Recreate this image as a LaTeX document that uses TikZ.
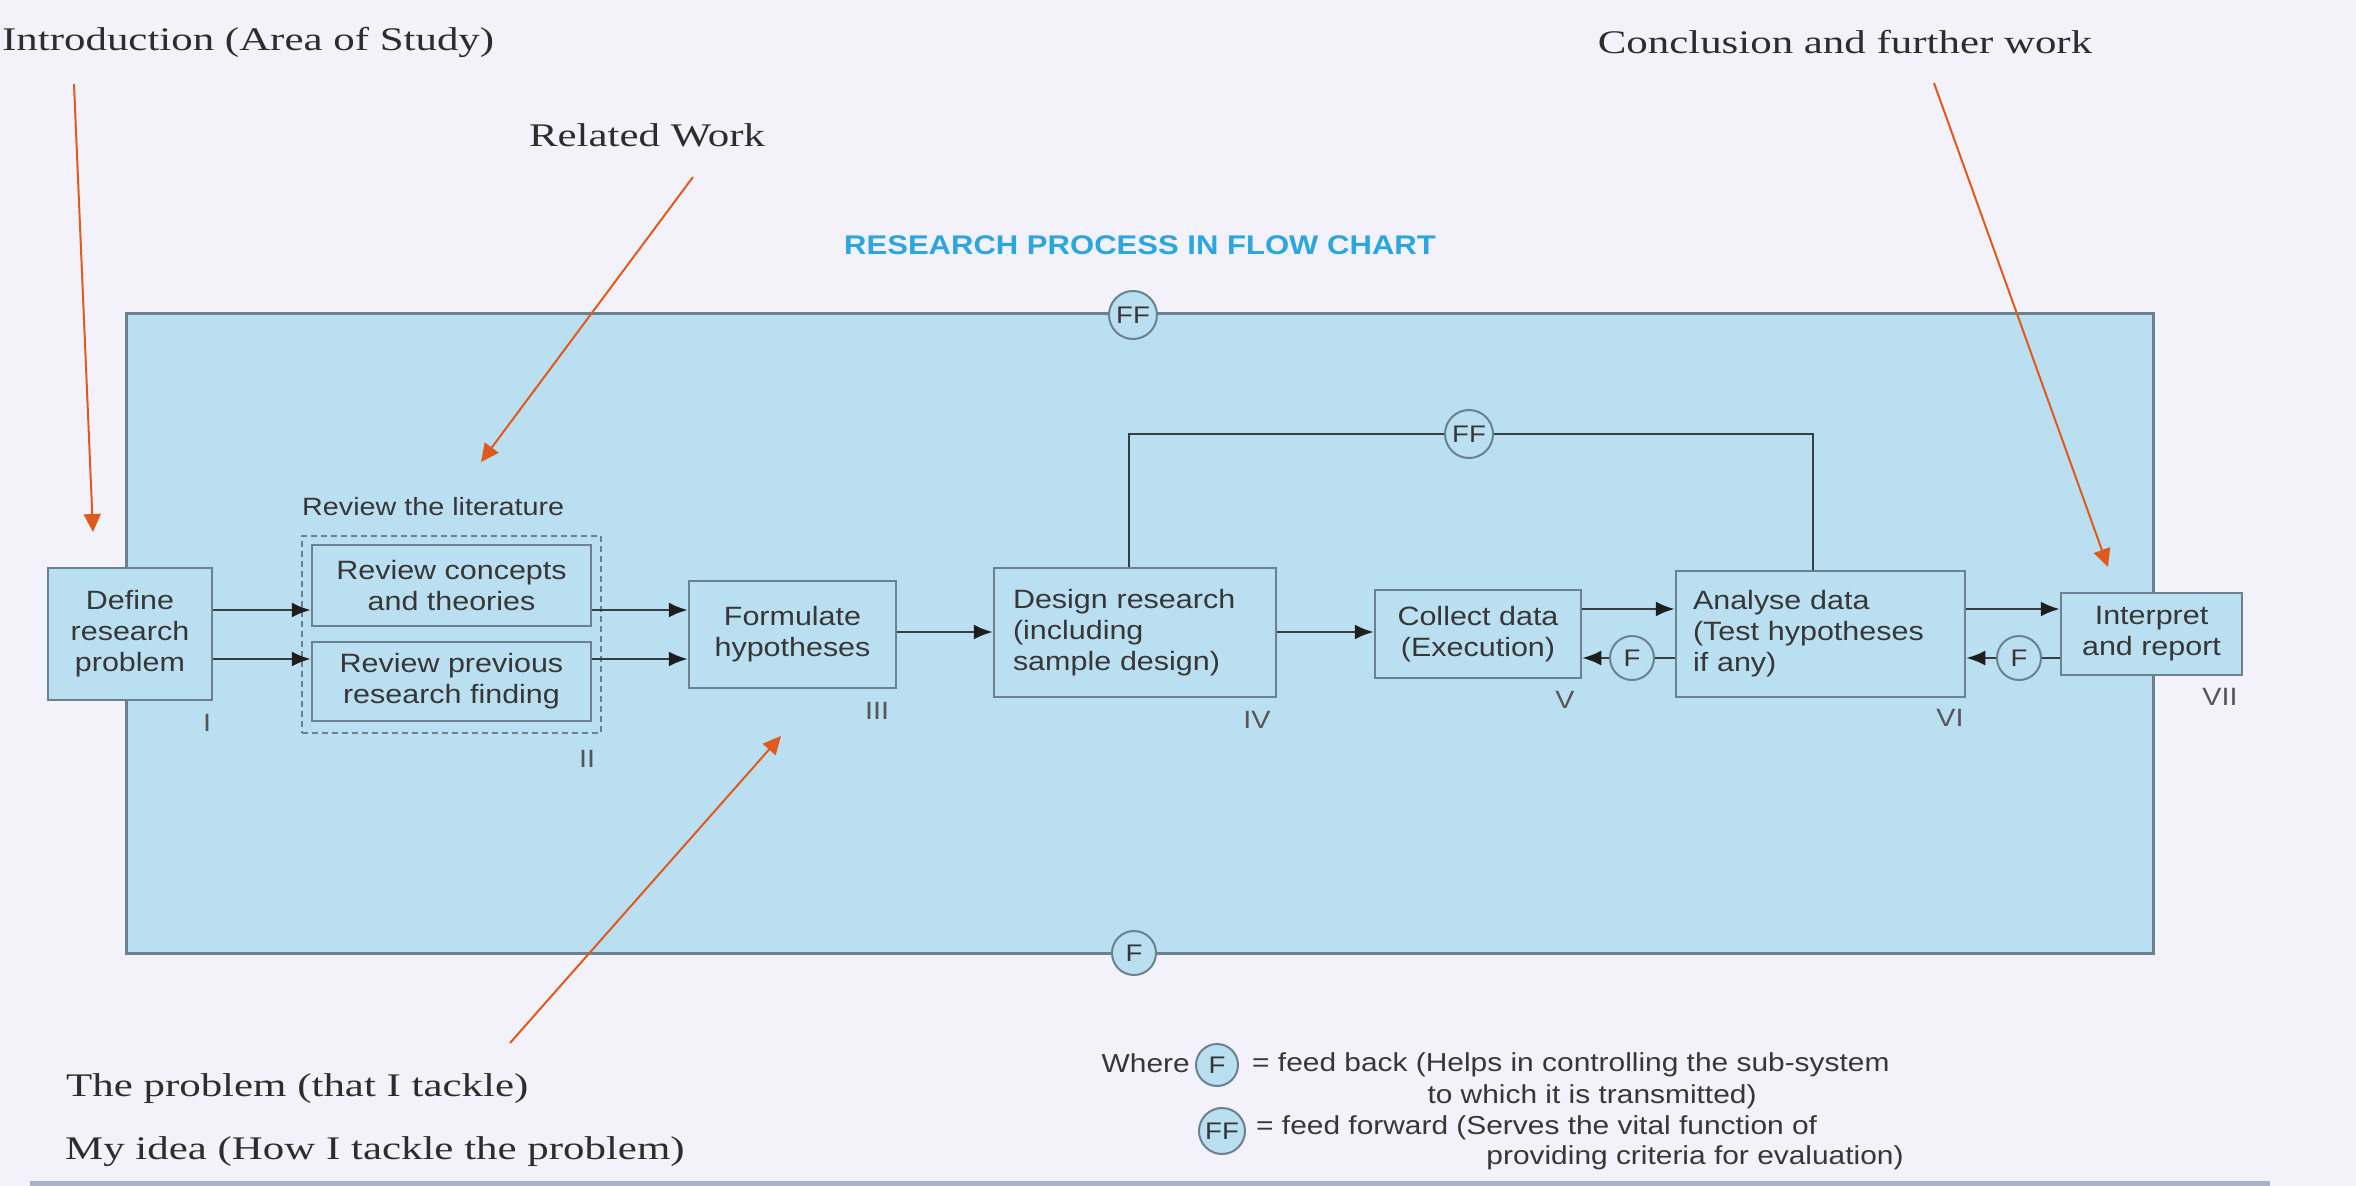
\documentclass[tikz,border=0pt]{standalone}
\usepackage{fontspec}
\usetikzlibrary{arrows.meta}
\newfontfamily\dfont[FakeStretch=1.15]{Liberation Sans}
\newfontfamily\annfont[FakeStretch=1.3]{Liberation Serif}
\definecolor{bgc}{RGB}{243,242,250}
\definecolor{boxblue}{RGB}{185,223,240}
\definecolor{bord}{RGB}{105,130,142}
\definecolor{lin}{RGB}{55,62,66}
\definecolor{tipc}{RGB}{30,30,30}
\definecolor{txt}{RGB}{55,55,55}
\definecolor{orng}{RGB}{224,90,30}
\definecolor{titlec}{RGB}{43,166,223}
\definecolor{sertxt}{RGB}{45,45,45}
\definecolor{botline}{RGB}{168,178,198}
\definecolor{romc}{RGB}{85,85,90}
\tikzset{
  box/.style={draw=bord, fill=boxblue, line width=2.5pt, inner sep=0pt,
    font=\dfont\fontsize{26.5}{31}\selectfont, text=txt, align=center},
  litbox/.style={draw=bord, line width=2pt, dash pattern=on 6pt off 4pt, inner sep=0pt},
  fb/.style={circle, draw=bord, fill=boxblue, line width=2pt, minimum size=44pt,
    inner sep=0pt, font=\dfont\fontsize{24}{26}\selectfont, text=txt},
  arr/.style={draw=lin, line width=2.5pt, -{Latex[length=19pt,width=15pt,color=tipc]}},
  ln/.style={draw=lin, line width=2.5pt},
  ann/.style={draw=orng, line width=2pt, -{Triangle[length=18pt,width=17pt]}},
  anntext/.style={font=\annfont\fontsize{33}{40}\selectfont, text=sertxt, inner sep=0pt},
  roman/.style={font=\dfont\fontsize{25}{28}\selectfont, text=romc, inner sep=0pt},
  legtext/.style={font=\dfont\fontsize{26}{30}\selectfont, text=txt, inner sep=0pt},
}
\begin{document}
\begin{tikzpicture}[x=1pt,y=-1pt]
\useasboundingbox (0,0) rectangle (2356,1186);
\clip (0,0) rectangle (2356,1186);
\fill[bgc] (0,0) rectangle (2356,1186);
\draw[botline, line width=5pt] (30,1183) -- (2270,1183);

% main box
\node[draw=bord, fill=boxblue, line width=3pt, minimum width=2027pt, minimum height=640pt, inner sep=0pt] (main) at (1139.5,633) {};
\node[fb, minimum size=48pt] (ff0) at (1133,315) {FF};
\node[fb] (f0) at (1134,953) {F};

% title
\node[font=\dfont\bfseries\fontsize{27}{30}\selectfont, text=titlec, inner sep=0pt] (title) at (1140,245) {RESEARCH PROCESS IN FLOW CHART};

% boxes
\node[litbox, minimum width=299pt, minimum height=197pt] (lit) at (451.5,634.5) {};
\node[box, minimum width=164pt, minimum height=132pt] (define) at (130,634) {Define\\research\\problem};
\node[box, minimum width=279pt, minimum height=81pt] (rc) at (451.5,585.5) {Review concepts\\and theories};
\node[box, minimum width=279pt, minimum height=79pt] (rp) at (451.5,681.5) {Review previous\\research finding};
\node[box, minimum width=207pt, minimum height=107pt] (form) at (792.5,634.5) {Formulate\\hypotheses};
\node[box, align=left, text width=244pt, minimum width=282pt, minimum height=129pt] (design) at (1135,632.5) {Design research\\(including\\sample design)};
\node[box, minimum width=206pt, minimum height=88pt] (collect) at (1478,634) {Collect data\\(Execution)};
\node[box, align=left, text width=255pt, minimum width=289pt, minimum height=126pt] (analyse) at (1820.5,634) {Analyse data\\(Test hypotheses\\if any)};
\node[box, minimum width=181pt, minimum height=82pt] (interp) at (2151.5,634) {Interpret\\and report};

\node[font=\dfont\fontsize{25}{28}\selectfont, text=txt, anchor=west, inner sep=0pt] (revlit) at (302,507) {Review the literature};

% roman numerals
\node[roman] (rI) at (207,723) {I};
\node[roman] (rII) at (587,759) {II};
\node[roman] (rIII) at (877,711) {III};
\node[roman] (rIV) at (1257,720) {IV};
\node[roman] (rV) at (1565,700) {V};
\node[roman] (rVI) at (1950,718) {VI};
\node[roman] (rVII) at (2220,697) {VII};

% connectors
\coordinate (ya) at (0,610);
\coordinate (yb) at (0,659);
\coordinate (yc) at (0,632);
\coordinate (yd) at (0,609);
\coordinate (ye) at (0,658);
\coordinate (p1) at (1129,434);
\coordinate (p2) at (1813,434);
\draw[arr] (define.east |- ya) -- (rc.west |- ya);
\draw[arr] (define.east |- yb) -- (rp.west |- yb);
\draw[arr] (rc.east |- ya) -- (form.west |- ya);
\draw[arr] (rp.east |- yb) -- (form.west |- yb);
\draw[arr] (form.east |- yc) -- (design.west |- yc);
\draw[arr] (design.east |- yc) -- (collect.west |- yc);
\draw[arr] (collect.east |- yd) -- (analyse.west |- yd);
\draw[arr] (analyse.east |- yd) -- (interp.west |- yd);
\node[fb] (f1) at (1632,658) {F};
\node[fb] (f2) at (2019,658) {F};
\draw[ln] (analyse.west |- ye) -- (f1);
\draw[arr] (f1) -- (collect.east |- ye);
\draw[ln] (interp.west |- ye) -- (f2);
\draw[arr] (f2) -- (analyse.east |- ye);
\node[fb, minimum size=48pt] (ff1) at (1469,434) {FF};
\draw[ln] (p1 |- design.north) -- (p1) -- (ff1);
\draw[ln] (ff1) -- (p2) -- (p2 |- analyse.north);

% legend
\node[legtext, anchor=east] (where) at (1190,1063) {Where};
\node[fb, minimum size=42pt] (lf) at (1217,1065) {F};
\node[legtext, anchor=west] (l1) at (1252,1065) {= feed back (Helps in controlling the sub-system};
\node[legtext] (l2) at (1592,1097) {to which it is transmitted)};
\node[fb, minimum size=46pt] (lff) at (1222,1131) {FF};
\node[legtext, anchor=west] (l3) at (1256,1128) {= feed forward (Serves the vital function of};
\node[legtext] (l4) at (1695,1158) {providing criteria for evaluation)};

% annotations
\node[anntext, anchor=west] (intro) at (2,42) {Introduction (Area of Study)};
\node[anntext] (related) at (647,135) {Related Work};
\node[anntext] (concl) at (1845,42) {Conclusion and further work};
\node[anntext, anchor=west] (problem) at (66,1089) {The problem (that I tackle)};
\node[anntext, anchor=west] (idea) at (65,1152) {My idea (How I tackle the problem)};
\coordinate (a1s) at (74,84);
\coordinate (a1e) at (93,532);
\coordinate (a2s) at (693,177);
\coordinate (a2e) at (481,462);
\coordinate (a3s) at (1934,83);
\coordinate (a3e) at (2108,567);
\coordinate (a4s) at (510,1043);
\coordinate (a4e) at (781,736);
\draw[ann] (a1s) -- (a1e);
\draw[ann] (a2s) -- (a2e);
\draw[ann] (a3s) -- (a3e);
\draw[ann] (a4s) -- (a4e);
\end{tikzpicture}
\end{document}
